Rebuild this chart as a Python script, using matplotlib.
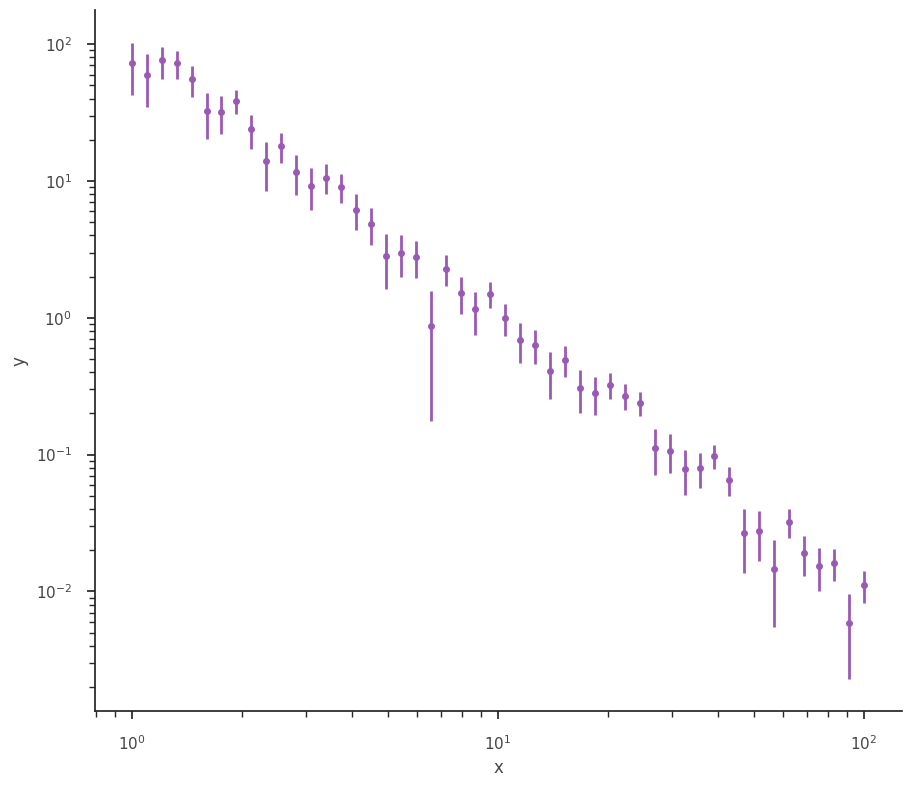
import numpy as np
import seaborn as sns
from matplotlib import pyplot as plt

sns.set_theme(style="ticks", context="notebook")
plt.rcParams['text.color'] = '.27'
plt.rcParams['axes.labelcolor'] = '.27'
plt.rcParams['xtick.labelcolor'] = '.27'
plt.rcParams['ytick.labelcolor'] = '.27'
plt.rcParams['xtick.major.pad'] = 10.5
plt.rcParams['ytick.major.pad'] = 10.5

# 50 log-spaced sample positions between 1 and 100
x = np.logspace(0, 2, 50)

y = [72.3, 60.0, 76.0, 72.3, 55.2, 32.2, 31.7, 38.7, 23.8, 13.9,
     17.9, 11.7, 9.26, 10.6, 9.11, 6.18, 4.88, 2.85, 3.00, 2.80,
     0.877, 2.29, 1.53, 1.15, 1.50, 1.00, 0.693, 0.637, 0.411, 0.495,
     0.309, 0.284, 0.325, 0.270, 0.240, 0.112, 0.107, 0.0789, 0.0803, 0.0982,
     0.0656, 0.0269, 0.0278, 0.0147, 0.0323, 0.0192, 0.0154, 0.0162, 0.0059, 0.0112]

yerr = [30.0, 25.0, 20.0, 17.0, 14.0, 11.8, 9.8, 7.8, 6.7, 5.5,
        4.4, 3.85, 3.1, 2.6, 2.2, 1.8, 1.5, 1.22, 1.0, 0.85,
        0.70, 0.58, 0.47, 0.40, 0.32, 0.27, 0.225, 0.18, 0.155, 0.128,
        0.106, 0.088, 0.072, 0.059, 0.048, 0.041, 0.034, 0.0285, 0.023, 0.020,
        0.016, 0.0133, 0.011, 0.0092, 0.0077, 0.0063, 0.0053, 0.0043, 0.0036, 0.003]

fig, ax = plt.subplots(figsize=(9.11, 7.86), dpi=100)
fig.subplots_adjust(left=0.104, right=0.99, bottom=0.095, top=0.987)

ax.errorbar(x, y, yerr=yerr, fmt='o', color='#9b59b6', ms=4, elinewidth=2)
ax.set_xscale('log')
ax.set_yscale('log')
ax.set_xlim(0.792, 127)
ax.set_ylim(0.00133, 177)
ax.set_xlabel('x', labelpad=4)
ax.set_ylabel('y', labelpad=5)
sns.despine()

plt.savefig('out.png')
